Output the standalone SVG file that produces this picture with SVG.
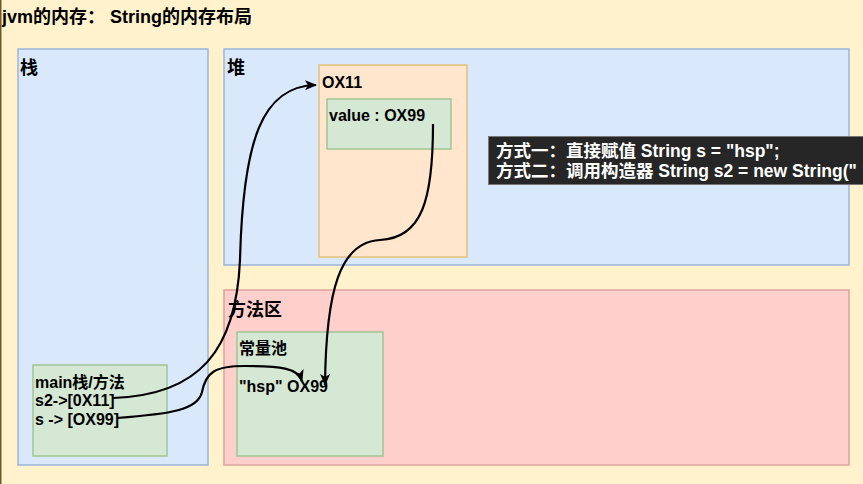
<svg xmlns="http://www.w3.org/2000/svg" width="863" height="484" viewBox="0 0 863 484">
<style>
  text{font-family:"Liberation Sans","Noto Sans CJK SC",sans-serif;font-weight:bold;fill:#000}
  .t18{font-size:18px}
  .t16{font-size:16px}
  .blue{fill:#dae8fc;stroke:#9db5d6;stroke-width:1.5}
  .red{fill:#ffcfcc;stroke:#dca39e;stroke-width:1.5}
  .orange{fill:#ffe6cc;stroke:#e3c07e;stroke-width:1.5}
  .green{fill:#d5e8d4;stroke:#a2c493;stroke-width:1.5}
  .tip{font-size:17.5px;fill:#fff}
  .conn path{fill:none;stroke:#000;stroke-width:2.2}
</style>
<defs>
  <marker id="arr" viewBox="0 0 12 10" refX="11" refY="5" markerWidth="12" markerHeight="10" markerUnits="userSpaceOnUse" orient="auto">
    <path d="M0,0 L12,5 L0,10 L3,5 Z" fill="#000"/>
  </marker>
</defs>
<rect x="0" y="0" width="863" height="484" fill="#fff2cc"/>
<line x1="0.75" y1="0" x2="0.75" y2="484" stroke="#6b5a2a" stroke-width="1.5"/>
<text class="t18" x="2" y="23">jvm的内存：  String的内存布局</text>

<g id="stack">
  <rect class="blue" x="18" y="49" width="190" height="416"/>
  <text class="t18" x="20" y="74">栈</text>
</g>
<g id="heap">
  <rect class="blue" x="224" y="49" width="625" height="216"/>
  <text class="t18" x="227" y="74">堆</text>
</g>
<g id="heap-object">
  <rect class="orange" x="319" y="65" width="148" height="192"/>
  <text class="t16" x="322" y="88">OX11</text>
</g>
<g id="value-box">
  <rect class="green" x="327" y="99" width="124" height="50"/>
  <text class="t16" x="329" y="121">value : OX99</text>
</g>
<g id="method-area">
  <rect class="red" x="224" y="290" width="625" height="175"/>
  <text class="t18" x="228" y="316">方法区</text>
</g>
<g id="constant-pool">
  <rect class="green" x="237" y="332" width="146" height="124"/>
  <text class="t16" x="239" y="354">常量池</text>
  <text class="t16" x="239" y="392">"hsp" OX99</text>
</g>
<g id="main-frame">
  <rect class="green" x="33" y="365" width="134" height="91"/>
  <text class="t16" x="35" y="388">main栈/方法</text>
  <text class="t16" x="35" y="406">s2-&gt;[0X11]</text>
  <text class="t16" x="35" y="425">s -&gt; [OX99]</text>
</g>
<g id="tooltip">
  <rect x="488.5" y="136.5" width="380" height="48" fill="#262626" stroke="#777" stroke-width="1"/>
  <text class="tip" x="496" y="157">方式一：直接赋值 String s = "hsp";</text>
  <text class="tip" x="496" y="177">方式二：调用构造器 String s2 = new String("</text>
</g>

<g id="connectors" class="conn">
  <path d="M113 398 C200 395 236 350 240 260 C243 140 262 86 316 85" marker-end="url(#arr)"/>
  <path d="M117 418 C170 414 198 410 202 392 C206 372 215 366 245 366 C280 366 298 368 302 381" marker-end="url(#arr)"/>
  <path d="M433 124 C433 200 422 238 380 240 C340 242 326 290 325 385" marker-end="url(#arr)"/>
</g>
</svg>
